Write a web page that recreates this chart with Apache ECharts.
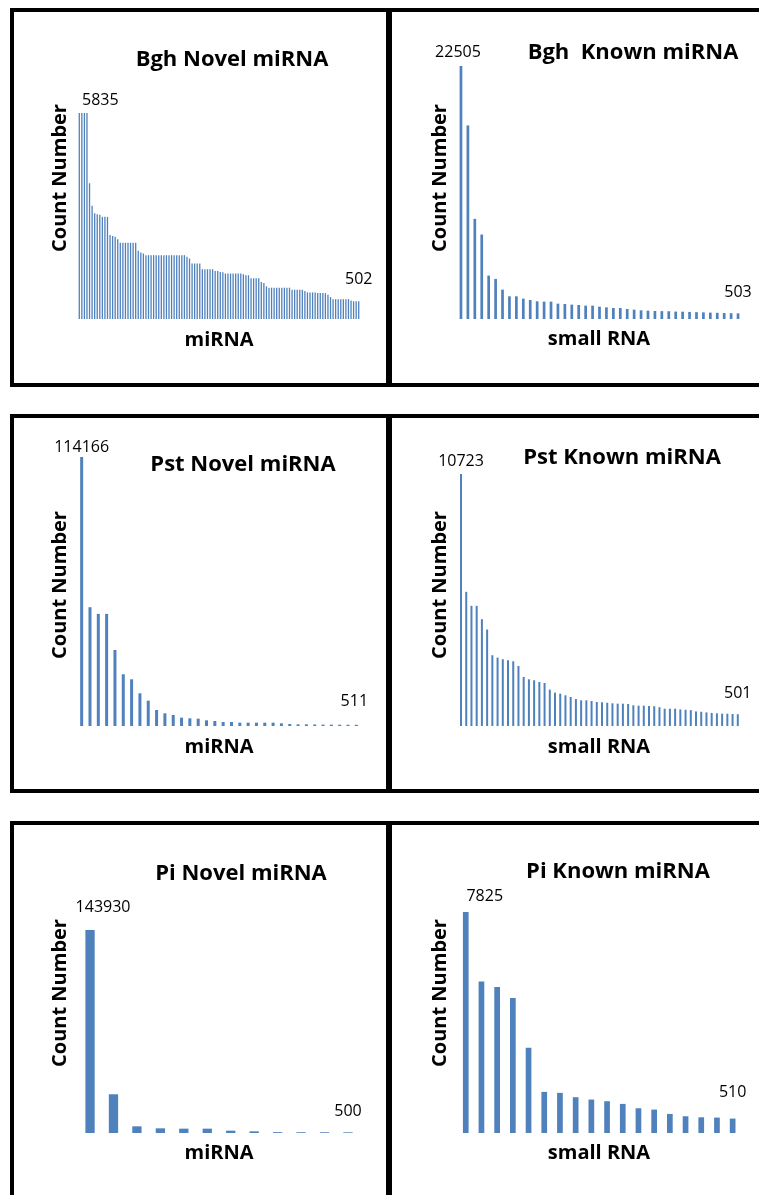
<!DOCTYPE html>
<html>
<head>
<meta charset="utf-8">
<title>miRNA counts</title>
<script src="https://cdn.jsdelivr.net/npm/echarts@6/dist/echarts.min.js"></script>
<style>
  html, body { margin: 0; padding: 0; background: #fff; }
  #main { width: 759px; height: 1195px; }
</style>
</head>
<body>
<div id="main"></div>
<script>
// counts, sorted high to low as in the original
var bghNovel = [
  5835, 5835, 5835, 5835, 3846, 3208, 2998, 2970, 2951, 2894,
  2894, 2894, 2380, 2351, 2332, 2256, 2161, 2161, 2161, 2161,
  2161, 2161, 2161, 1932, 1885, 1856, 1809, 1809, 1809, 1809,
  1809, 1809, 1809, 1809, 1809, 1809, 1809, 1809, 1809, 1809,
  1809, 1809, 1761, 1713, 1571, 1571, 1571, 1571, 1409, 1409,
  1409, 1409, 1409, 1361, 1361, 1330, 1325, 1287, 1287, 1287,
  1287, 1287, 1287, 1287, 1268, 1239, 1239, 1153, 1153, 1153,
  1153, 1049, 1020, 924, 887, 887, 887, 887, 887, 887,
  887, 887, 887, 829, 829, 829, 829, 829, 791, 753,
  753, 753, 753, 734, 734, 734, 734, 686, 620, 562,
  562, 562, 562, 562, 562, 562, 524, 502, 502, 502
];
var bghKnown = [
  22505, 17220, 8907, 7512, 3860, 3563, 2613, 2019, 2019, 1811,
  1692, 1574, 1544, 1544, 1366, 1336, 1277, 1247, 1188, 1188,
  1099, 1039, 980, 980, 891, 831, 772, 742, 713, 700,
  690, 660, 650, 630, 610, 590, 570, 550, 530, 515, 503
];
var pstNovel = [
  114166, 50410, 47580, 47580, 32285, 21950, 19820, 13877, 10760, 6800,
  5380, 4670, 3540, 3257, 3115, 2407, 2124, 1700, 1700, 1416,
  1416, 1416, 1416, 1416, 1133, 850, 708, 700, 650, 600,
  570, 550, 530, 511
];
var pstKnown = [
  10723, 5709, 5113, 5113, 4545, 4104, 3011, 2911, 2840, 2797,
  2755, 2556, 2088, 1988, 1946, 1874, 1832, 1548, 1420, 1377,
  1306, 1235, 1150, 1093, 1093, 1065, 1022, 1010, 990, 965,
  950, 950, 935, 880, 865, 865, 850, 840, 800, 735,
  735, 735, 705, 690, 675, 620, 605, 580, 555, 540,
  525, 520, 510, 501
];
var piNovel = [143930, 27460, 4735, 3314, 3077, 3077, 1657, 1183, 600, 550, 520, 500];
var piKnown = [7825, 5363, 5173, 4783, 3019, 1456, 1421, 1267, 1184, 1125, 1030, 876, 829, 675, 592, 556, 545, 510];

var titles = ['Bgh Novel miRNA', 'Bgh  Known miRNA', 'Pst Novel miRNA', 'Pst Known miRNA', 'Pi Novel miRNA', 'Pi Known miRNA'];
var xNames = ['miRNA', 'small RNA', 'miRNA', 'small RNA', 'miRNA', 'small RNA'];
var yName = 'Count Number';

(function() {
  var myChart = echarts.init(document.getElementById('main'));
  var blue = '#4f81bd';

  // one panel per dataset
  var panels = [
    { data: bghNovel, grid: [78, 282, 113, 206], barW: 1.3, first: [21, 0], last: [0, -9],
      title: [232, 60], yT: [60, 178], xT: [219, 340] },
    { data: bghKnown, grid: [457.5, 284, 66, 253], barW: 2.7, first: [-3, -1], last: [0, -8],
      title: [633, 53], yT: [440, 178], xT: [599, 339] },
    { data: pstNovel, grid: [77.5, 283, 457, 269], barW: 3, first: [0, 3], last: [-2, -10],
      title: [243, 465], yT: [60, 585], xT: [219, 747] },
    { data: pstKnown, grid: [458.4, 282, 474, 252], barW: 2, first: [0, 0], last: [0, -8],
      title: [622, 458], yT: [440, 585], xT: [599, 747] },
    { data: piNovel, grid: [78.3, 281.4, 930, 203], barW: 9.3, first: [13, -10], last: [0, -8],
      title: [241, 874], yT: [60, 993], xT: [219, 1153] },
    { data: piKnown, grid: [457.9, 282.6, 912, 221], barW: 5.7, first: [19, -3], last: [0, -13],
      title: [618, 872], yT: [440, 993], xT: [599, 1153] }
  ];

  var grids = [], xAxes = [], yAxes = [], series = [], graphics = [];

  // panel frames
  var frames = [[12, 10, 376, 375], [390, 10, 380, 375], [12, 416, 376, 375],
                [390, 416, 380, 375], [12, 823, 376, 400], [390, 823, 380, 400]];
  frames.forEach(function(f) {
    graphics.push({
      type: 'rect', shape: { x: f[0], y: f[1], width: f[2], height: f[3] },
      style: { fill: 'none', stroke: '#000', lineWidth: 4 }, z: 10
    });
  });

  panels.forEach(function(p, i) {
    grids.push({ left: p.grid[0], width: p.grid[1], top: p.grid[2], height: p.grid[3] });
    var cats = p.data.map(function(v, k) { return 'r' + (k + 1); });
    xAxes.push({
      type: 'category', gridIndex: i, data: cats,
      axisLine: { show: false }, axisTick: { show: false }, axisLabel: { show: false }
    });
    yAxes.push({
      type: 'value', gridIndex: i, min: 0, max: p.data[0],
      axisLine: { show: false }, axisTick: { show: false }, axisLabel: { show: false },
      splitLine: { show: false }
    });
    var n = p.data.length;
    series.push({
      type: 'bar', xAxisIndex: i, yAxisIndex: i, barWidth: p.barW,
      itemStyle: { color: blue },
      animation: false,
      data: p.data.map(function(v, k) {
        if (k === 0 || k === n - 1) {
          return {
            value: v,
            label: {
              show: true, position: 'top', offset: k === 0 ? p.first : p.last,
              color: '#000', fontSize: 16, fontFamily: 'Open Sans'
            }
          };
        }
        return v;
      })
    });

    graphics.push({
      type: 'text', x: p.title[0], y: p.title[1],
      style: { text: titles[i], font: 'bold 22px "Open Sans"', fill: '#000', align: 'center', verticalAlign: 'middle' }
    });
    graphics.push({
      type: 'text', x: p.xT[0], y: p.xT[1],
      style: { text: xNames[i], font: 'bold 20px "Open Sans"', fill: '#000', align: 'center', verticalAlign: 'middle' }
    });
    graphics.push({
      type: 'text', x: p.yT[0], y: p.yT[1], rotation: Math.PI / 2,
      style: { text: yName, font: 'bold 20px "Open Sans"', fill: '#000', align: 'center', verticalAlign: 'middle' }
    });
  });

  var option = {
    backgroundColor: '#fff',
    animation: false,
    grid: grids,
    xAxis: xAxes,
    yAxis: yAxes,
    series: series,
    graphic: graphics
  };
  myChart.setOption(option);
  window.addEventListener('resize', function() {
    myChart.resize();
  });
})();
</script>
</body>
</html>
